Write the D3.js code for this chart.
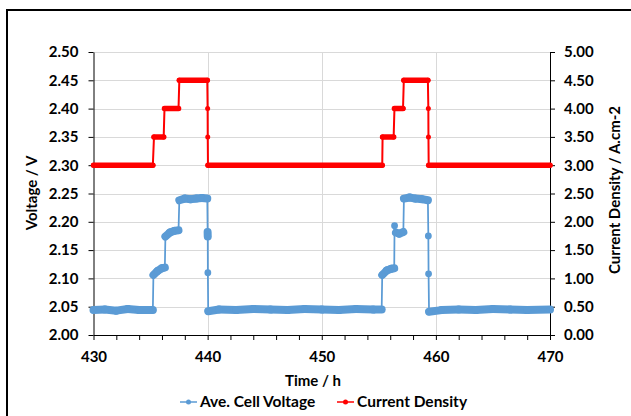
<!DOCTYPE html>
<html>
<head>
<meta charset="utf-8">
<script src="https://cdn.jsdelivr.net/npm/d3@7"></script>
<style>
  body { margin: 0; background: #fff; }
  text { font-family: Lato, "Open Sans", sans-serif; font-weight: bold; fill: #000; }
</style>
</head>
<body>
<div class="chart_box"></div>
<script>
// Ave. cell voltage readings (time in h, voltage in V)
const voltTime = [
  430.0, 431.0, 432.0, 433.0, 434.0, 435.2,
  435.25, 435.6, 436.0, 436.25,
  436.3, 436.7, 437.1, 437.45,
  437.52, 438.0, 438.5, 439.0, 439.5, 439.97,
  440.0, 440.01, 440.02, 440.05,
  441.0, 442.5, 444.0, 445.5, 447.0, 448.5, 450.0, 451.5, 453.0, 454.5, 455.25,
  455.3, 455.7, 456.1, 456.35,
  456.38, 456.5, 456.8, 457.15,
  457.2, 457.7, 458.2, 458.8, 459.3,
  459.34, 459.36, 459.4,
  460.5, 462.0, 463.5, 465.0, 466.5, 468.0, 470.0
];
const voltValue = [
  2.044, 2.045, 2.043, 2.046, 2.044, 2.044,
  2.106, 2.113, 2.118, 2.119,
  2.174, 2.181, 2.184, 2.185,
  2.238, 2.241, 2.240, 2.241, 2.242, 2.241,
  2.182, 2.174, 2.110, 2.042,
  2.045, 2.044, 2.046, 2.045, 2.044, 2.046, 2.045, 2.044, 2.046, 2.045, 2.045,
  2.106, 2.114, 2.117, 2.118,
  2.193, 2.181, 2.179, 2.182,
  2.241, 2.243, 2.241, 2.240, 2.238,
  2.175, 2.108, 2.041,
  2.044, 2.045, 2.044, 2.046, 2.045, 2.044, 2.045
];

// Current density set points (time in h, A.cm-2)
const curTime = [
  430.0, 435.2,
  435.3, 436.15,
  436.22, 437.45,
  437.52, 439.97,
  440.0, 440.01, 440.03,
  455.3,
  455.33, 456.3,
  456.37, 457.12,
  457.19, 459.3,
  459.34, 459.35, 459.37,
  470.0
];
const curValue = [
  3.0, 3.0,
  3.5, 3.5,
  4.0, 4.0,
  4.5, 4.5,
  4.0, 3.5, 3.0,
  3.0,
  3.5, 3.5,
  4.0, 4.0,
  4.5, 4.5,
  4.0, 3.5, 3.0,
  3.0
];

const voltTicks = [2.0, 2.05, 2.1, 2.15, 2.2, 2.25, 2.3, 2.35, 2.4, 2.45, 2.5];
const curTicks = [0, 0.5, 1, 1.5, 2, 2.5, 3, 3.5, 4, 4.5, 5];
const timeLabels = [430, 440, 450, 460, 470];
const timeMinor = [430, 432, 434, 436, 438, 440, 442, 444, 446, 448, 450,
  452, 454, 456, 458, 460, 462, 464, 466, 468, 470];

const blue = "#5b9bd5";
const red = "#ff0000";

const svg = d3
  .select(".chart_box")
  .append("svg")
  .attr("width", 631)
  .attr("height", 416);

// outer chart border
svg
  .append("rect")
  .attr("x", 7)
  .attr("y", 10)
  .attr("width", 700)
  .attr("height", 500)
  .attr("fill", "none")
  .attr("stroke", "#000")
  .attr("stroke-width", 2);

const xScale = d3.scaleLinear().domain([430, 470]).range([93.5, 550]);
const yLeft = d3.scaleLinear().domain([2.0, 2.5]).range([335, 52]);
const yRight = d3.scaleLinear().domain([0, 5]).range([335, 52]);

// gridlines
svg
  .append("g")
  .selectAll("line")
  .data(voltTicks)
  .enter()
  .append("line")
  .attr("x1", xScale(430))
  .attr("x2", xScale(470))
  .attr("y1", (d) => Math.round(yLeft(d)) + 0.5)
  .attr("y2", (d) => Math.round(yLeft(d)) + 0.5)
  .attr("stroke", "#d9d9d9");

svg
  .append("g")
  .selectAll("line")
  .data([440, 450, 460])
  .enter()
  .append("line")
  .attr("x1", (d) => Math.round(xScale(d)) + 0.5)
  .attr("x2", (d) => Math.round(xScale(d)) + 0.5)
  .attr("y1", yLeft(2.5))
  .attr("y2", yLeft(2.0))
  .attr("stroke", "#d9d9d9");

// axes
const leftAxis = svg
  .append("g")
  .attr("transform", "translate(93.5,0)")
  .call(
    d3.axisLeft(yLeft).tickValues(voltTicks).tickFormat(d3.format(".2f"))
      .tickSize(5).tickSizeOuter(0).tickPadding(10)
  );

const rightAxis = svg
  .append("g")
  .attr("transform", "translate(550,0)")
  .call(
    d3.axisRight(yRight).tickValues(curTicks).tickFormat(d3.format(".2f"))
      .tickSize(5).tickSizeOuter(0).tickPadding(9)
  );

const bottomAxis = svg
  .append("g")
  .attr("transform", "translate(0,335)")
  .call(
    d3.axisBottom(xScale).tickValues(timeMinor)
      .tickFormat((d) => (timeLabels.includes(d) ? d : ""))
      .tickSize(5).tickSizeOuter(0).tickPadding(11)
  );

[leftAxis, rightAxis, bottomAxis].forEach((g) => {
  g.selectAll("text").style("font-size", "15px").attr("fill", "#000");
  g.selectAll("path, line").attr("stroke", "#000");
});

// draw one series: thin line through all points, thick band where level holds, markers
function drawSeries(times, values, yScale, color, band, r, w) {
  const pts = times.map((t, i) => [xScale(t), yScale(values[i])]);
  const line = d3.line();
  const g = svg.append("g");

  const flat = [];
  for (let i = 1; i < pts.length; i++) {
    if (Math.abs(pts[i][1] - pts[i - 1][1]) < 5) flat.push([pts[i - 1], pts[i]]);
  }
  g.selectAll(".band")
    .data(flat)
    .enter()
    .append("path")
    .attr("d", (d) => line(d))
    .attr("fill", "none")
    .attr("stroke", color)
    .attr("stroke-width", band)
    .attr("stroke-linecap", "round");

  g.append("path")
    .attr("d", line(pts))
    .attr("fill", "none")
    .attr("stroke", color)
    .attr("stroke-width", w);

  g.selectAll("circle")
    .data(pts)
    .enter()
    .append("circle")
    .attr("cx", (d) => d[0])
    .attr("cy", (d) => d[1])
    .attr("r", r)
    .attr("fill", color);
}

drawSeries(voltTime, voltValue, yLeft, blue, 8, 3.4, 1.75);
drawSeries(curTime, curValue, yRight, red, 5.5, 2.5, 2);

// axis titles
svg
  .append("text")
  .attr("x", 313)
  .attr("y", 386)
  .attr("text-anchor", "middle")
  .style("font-size", "15px")
  .text("Time / h");

svg
  .append("text")
  .attr("transform", "translate(37,193) rotate(-90)")
  .attr("text-anchor", "middle")
  .style("font-size", "15px")
  .text("Voltage / V");

svg
  .append("text")
  .attr("transform", "translate(620,190) rotate(-90)")
  .attr("text-anchor", "middle")
  .style("font-size", "15px")
  .text("Current Density / A.cm-2");

// legend
const legendItems = [
  { name: "Ave. Cell Voltage", color: blue, x: 180 },
  { name: "Current Density", color: red, x: 337 },
];
const legend = svg
  .selectAll(".legend")
  .data(legendItems)
  .enter()
  .append("g")
  .attr("transform", (d) => `translate(${d.x},402)`);

legend
  .append("line")
  .attr("x1", 0)
  .attr("x2", 17)
  .attr("stroke", (d) => d.color)
  .attr("stroke-width", 1.5);

legend
  .append("circle")
  .attr("cx", 8.5)
  .attr("r", 2.5)
  .attr("fill", (d) => d.color);

legend
  .append("text")
  .attr("x", 20)
  .attr("dy", "0.35em")
  .style("font-size", "15.5px")
  .text((d) => d.name);
</script>
</body>
</html>
